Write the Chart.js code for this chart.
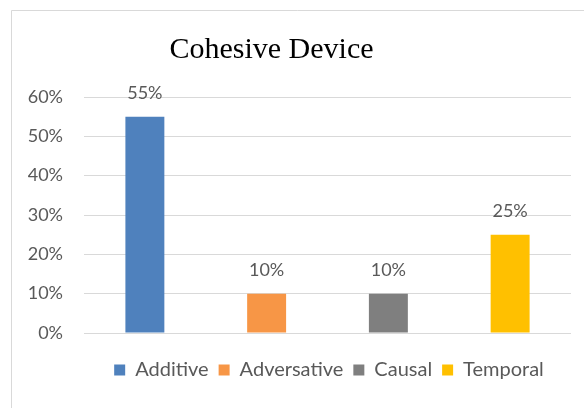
<!DOCTYPE html>
<html>
<head>
<meta charset="utf-8">
<script src="https://cdn.jsdelivr.net/npm/chart.js@4/dist/chart.umd.min.js"></script>
<style>
  html, body { margin: 0; padding: 0; background: #ffffff; }
  #wrap { width: 584px; height: 408px; position: relative; }
</style>
</head>
<body>
<div id="wrap"><canvas id="c" width="584" height="408"></canvas></div>
<script>
const chartTitle = "Cohesive Device";
const categories = ["Additive", "Adversative", "Causal", "Temporal"];
const values = [0.55, 0.10, 0.10, 0.25];
const colors = ["#4F81BD", "#F79646", "#7F7F7F", "#FFC000"];
const yTicks = [0, 0.1, 0.2, 0.3, 0.4, 0.5, 0.6];

const textGray = "#595959";
const gridGray = "#D9D9D9";
const sansFont = "Lato, 'Liberation Sans', sans-serif";

const datasets = categories.map((cat, i) => ({
  label: cat,
  data: categories.map((_, j) => (j === i ? values[i] : null)),
  backgroundColor: colors[i],
  borderWidth: 0,
  skipNull: true,
  barPercentage: 0.32,
  categoryPercentage: 1.0
}));

const fmtPct = v => Math.round(v * 100) + "%";

const framePlugin = {
  id: "frame",
  afterLayout(chart) {
    // centre the legend under the plot area rather than the full canvas
    if (chart.legend) { chart.legend.left = 87; }
  },
  beforeDraw(chart) {
    const ctx = chart.ctx;
    ctx.save();
    ctx.fillStyle = "#ffffff";
    ctx.fillRect(0, 0, chart.width, chart.height);
    ctx.strokeStyle = gridGray;
    ctx.lineWidth = 1;
    ctx.beginPath();
    ctx.moveTo(11.5, chart.height);
    ctx.lineTo(11.5, 10.5);
    ctx.lineTo(chart.width, 10.5);
    ctx.stroke();
    ctx.restore();
  },
  afterDraw(chart) {
    const ctx = chart.ctx;
    ctx.save();
    ctx.fillStyle = "#000000";
    ctx.font = "30px 'Liberation Serif', 'Times New Roman', serif";
    ctx.textAlign = "center";
    ctx.textBaseline = "alphabetic";
    ctx.fillText(chartTitle, 271.5, 58);
    ctx.restore();
  }
};

const valueLabelPlugin = {
  id: "valueLabels",
  afterDatasetsDraw(chart) {
    const ctx = chart.ctx;
    ctx.save();
    ctx.fillStyle = textGray;
    ctx.font = "18px " + sansFont;
    ctx.textAlign = "center";
    ctx.textBaseline = "middle";
    chart.data.datasets.forEach((ds, di) => {
      const meta = chart.getDatasetMeta(di);
      meta.data.forEach((el, idx) => {
        const v = ds.data[idx];
        if (v === null || v === undefined) return;
        ctx.fillText(fmtPct(v), el.x, el.y - 23);
      });
    });
    ctx.restore();
  }
};

new Chart(document.getElementById("c"), {
  type: "bar",
  data: { labels: categories, datasets },
  options: {
    responsive: false,
    animation: false,
    devicePixelRatio: 1,
    layout: { padding: { left: 0, right: 13, top: 97, bottom: 18 } },
    plugins: {
      title: { display: false },
      tooltip: { enabled: false },
      legend: {
        display: true,
        position: "bottom",
        labels: {
          boxWidth: 11,
          boxHeight: 11,
          padding: 10,
          color: textGray,
          font: { family: sansFont, size: 20 }
        }
      }
    },
    scales: {
      x: {
        display: true,
        grid: { display: false, drawTicks: false },
        border: { display: false },
        ticks: { display: false },
        afterFit(scale) { scale.height = 17; }
      },
      y: {
        min: 0,
        max: 0.6,
        afterBuildTicks(scale) { scale.ticks = yTicks.map(v => ({ value: v })); },
        afterFit(scale) { scale.width = 84; },
        grid: { color: gridGray, lineWidth: 1, drawTicks: false },
        border: { display: false },
        ticks: {
          padding: 21,
          color: textGray,
          font: { family: sansFont, size: 18 },
          callback: v => fmtPct(v)
        }
      }
    }
  },
  plugins: [framePlugin, valueLabelPlugin]
});
</script>
</body>
</html>
